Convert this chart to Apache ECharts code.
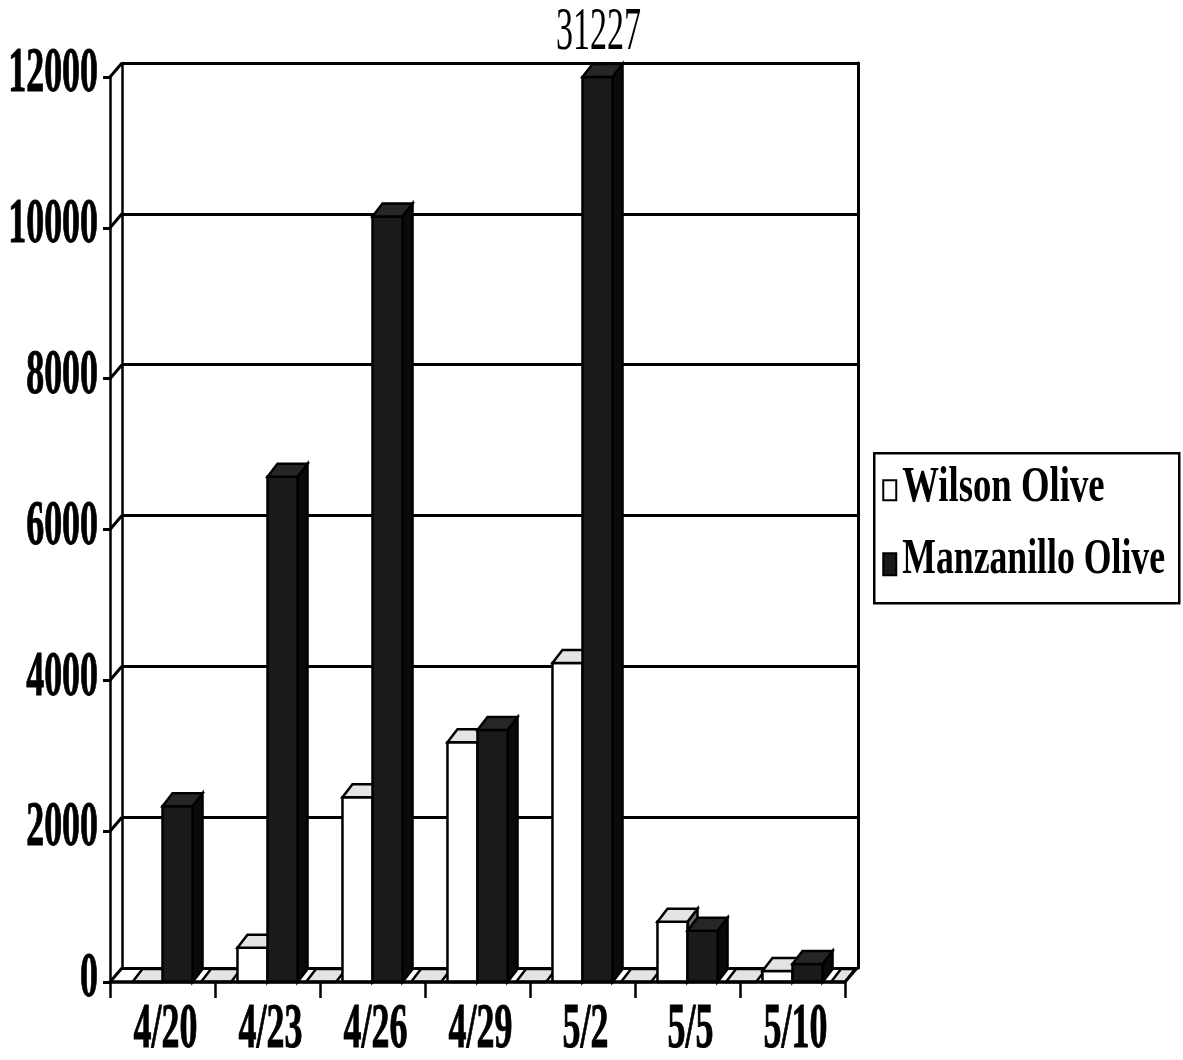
<!DOCTYPE html>
<html>
<head>
<meta charset="utf-8">
<script src="https://cdn.jsdelivr.net/npm/echarts@6/dist/echarts.min.js"></script>
<style>
  html, body { margin: 0; padding: 0; background: #fff; }
  #chart { width: 1183px; height: 1060px; }
</style>
</head>
<body>
<div id="chart"></div>
<script>
// Sampling dates and counts per olive variety
const categories = ['4/20', '4/23', '4/26', '4/29', '5/2', '5/5', '5/10'];
const wilsonOlive = [0, 455, 2450, 3180, 4230, 800, 145];
const manzanilloOlive = [2330, 6700, 10150, 3340, 31227, 680, 240];
// empty third slot per date, drawn as flat floor pads
const spacerValues = [0, 0, 0, 0, 0, 0, 0];
const yTicks = [0, 2000, 4000, 6000, 8000, 10000, 12000];
const yMax = 12000;
const legendNames = ['Wilson Olive', 'Manzanillo Olive'];

const WALL = [12, -14];      // offset of the back wall from the front plane
const BAR_DEPTH = [10, -13]; // depth offset of each column
const SERIF = '"Liberation Serif", "Times New Roman", serif';

const STYLES = {
  w: { front: '#ffffff', top: '#e4e4e4', side: '#6a6a6a' },
  m: { front: '#1a1a1a', top: '#262626', side: '#0a0a0a' },
  s: { front: '#ffffff', top: '#e4e4e4', side: '#6a6a6a' }
};

function boxRenderer(kind) {
  return function (params, api) {
    const cat = api.value(0);
    const v = api.value(1);
    const cs = params.coordSys;
    const band = api.size([1, 0])[0];
    const bw = band * 0.286;
    const base = api.coord([cat, 0]);
    const top = api.coord([cat, Math.min(v, yMax)]);
    let x0, w = bw;
    if (kind === 'w') x0 = base[0] - bw;
    else if (kind === 'm') x0 = base[0];
    else {
      x0 = base[0] + band / 2 - 14;
      w = Math.min(bw, cs.x + cs.width - x0);
    }
    const dx = BAR_DEPTH[0], dy = BAR_DEPTH[1];
    const st = STYLES[kind];
    const yT = top[1], yB = base[1];
    const h = yB - yT;
    const children = [];
    if (h > 0.5) {
      children.push({
        type: 'polygon',
        shape: { points: [[x0 + w, yT], [x0 + w + dx, yT + dy], [x0 + w + dx, yB + dy], [x0 + w, yB]] },
        style: { fill: st.side, stroke: '#000', lineWidth: 2.5 }
      });
      children.push({
        type: 'rect',
        shape: { x: x0, y: yT, width: w, height: h },
        style: { fill: st.front, stroke: '#000', lineWidth: 2.5 }
      });
    }
    children.push({
      type: 'polygon',
      shape: { points: [[x0, yT], [x0 + w, yT], [x0 + w + dx, yT + dy], [x0 + dx, yT + dy]] },
      style: { fill: st.top, stroke: '#000', lineWidth: 2.5 }
    });
    if (v > yMax) {
      // value runs past the axis top: print the actual value above the column
      children.push({
        type: 'text',
        x: x0 + (w + dx) / 2 - 4,
        y: yT + dy - 31,
        scaleX: 0.55,
        style: {
          text: String(v), font: '62px ' + SERIF, fill: '#000',
          align: 'center', verticalAlign: 'middle',
          textAlign: 'center', textVerticalAlign: 'middle'
        }
      });
    }
    return { type: 'group', children: children };
  };
}

// left-wall diagonals joining the front ticks to the back-wall gridlines
function frameRenderer(params, api) {
  const cs = params.coordSys;
  const v = api.value(1);
  const p = api.coord([0, v]);
  const children = [{
    type: 'line',
    shape: { x1: cs.x, y1: p[1], x2: cs.x + WALL[0], y2: p[1] + WALL[1] },
    style: { stroke: '#000', lineWidth: 3 }
  }];
  if (v === 0) {
    children.push({
      type: 'line',
      shape: { x1: cs.x + cs.width, y1: p[1], x2: cs.x + cs.width + WALL[0], y2: p[1] + WALL[1] },
      style: { stroke: '#000', lineWidth: 3 }
    });
  }
  return { type: 'group', children: children };
}

function yLabelRenderer(params, api) {
  const cs = params.coordSys;
  const v = api.value(1);
  const p = api.coord([0, v]);
  return {
    type: 'text',
    x: cs.x - 12,
    y: p[1] - 2,
    scaleX: 0.57,
    style: {
      text: String(v), font: 'bold 63px ' + SERIF, fill: '#000',
      stroke: '#000', lineWidth: 1,
      align: 'right', verticalAlign: 'middle',
      textAlign: 'right', textVerticalAlign: 'middle'
    }
  };
}

function xLabelRenderer(params, api) {
  const i = api.value(0);
  const p = api.coord([i, 0]);
  return {
    type: 'text',
    x: p[0] + 3,
    y: p[1] + 49,
    scaleX: 0.57,
    style: {
      text: categories[i], font: 'bold 63px ' + SERIF, fill: '#000',
      stroke: '#000', lineWidth: 1,
      align: 'center', verticalAlign: 'middle',
      textAlign: 'center', textVerticalAlign: 'middle'
    }
  };
}

const toPairs = arr => arr.map((v, i) => [i, v]);

const chart = echarts.init(document.getElementById('chart'), null, { renderer: 'canvas' });

chart.setOption({
  backgroundColor: '#ffffff',
  animation: false,
  grid: [
    { left: 110, right: 338, top: 77, bottom: 78 },          // front plane
    { left: 122, right: 325, top: 63, bottom: 92 }           // back wall
  ],
  xAxis: [
    {
      type: 'category', gridIndex: 0, data: categories, boundaryGap: true, z: 10,
      axisLine: { show: true, lineStyle: { color: '#000', width: 3.5 } },
      axisTick: { show: true, interval: 0, length: 16, lineStyle: { color: '#000', width: 2.5 } },
      axisLabel: { show: false }, splitLine: { show: false }
    },
    { type: 'category', gridIndex: 1, data: categories, show: false }
  ],
  yAxis: [
    {
      type: 'value', gridIndex: 0, min: 0, max: yMax, interval: 2000, z: 10,
      axisLine: { show: true, lineStyle: { color: '#000', width: 2.5 } },
      axisTick: { show: true, length: 7, lineStyle: { color: '#000', width: 3 } },
      axisLabel: { show: false }, splitLine: { show: false }
    },
    {
      type: 'value', gridIndex: 1, min: 0, max: yMax, interval: 2000, position: 'left',
      axisLine: { show: true, lineStyle: { color: '#000', width: 2.5 } },
      axisTick: { show: false }, axisLabel: { show: false },
      splitLine: { show: true, lineStyle: { color: '#000', width: 3 } }
    },
    {
      type: 'value', gridIndex: 1, min: 0, max: yMax, interval: 2000, position: 'right',
      axisLine: { show: true, lineStyle: { color: '#000', width: 3 } },
      axisTick: { show: false }, axisLabel: { show: false }, splitLine: { show: false }
    }
  ],
  series: [
    { type: 'custom', name: 'spacer', renderItem: boxRenderer('s'), data: toPairs(spacerValues), z: 2 },
    { type: 'custom', name: legendNames[0], renderItem: boxRenderer('w'), data: toPairs(wilsonOlive), z: 3 },
    { type: 'custom', name: legendNames[1], renderItem: boxRenderer('m'), data: toPairs(manzanilloOlive), z: 4 },
    { type: 'custom', name: 'frame', renderItem: frameRenderer, data: yTicks.map(v => [0, v]), z: 5 },
    { type: 'custom', name: 'yLabels', renderItem: yLabelRenderer, data: yTicks.map(v => [0, v]), z: 6 },
    { type: 'custom', name: 'xLabels', renderItem: xLabelRenderer, data: categories.map((c, i) => [i, 0]), z: 6 }
  ],
  graphic: [{
    type: 'group', left: 873, top: 452, z: 20,
    children: [
      { type: 'rect', shape: { x: 0, y: 0, width: 305, height: 150 },
        style: { fill: '#fff', stroke: '#000', lineWidth: 2.5 } },
      { type: 'rect', shape: { x: 9, y: 27, width: 13, height: 20 },
        style: { fill: '#fff', stroke: '#000', lineWidth: 2 } },
      { type: 'text', x: 28, y: 35, scaleX: 0.72,
        style: { text: legendNames[0], font: 'bold 51px ' + SERIF, fill: '#000',
                 align: 'left', verticalAlign: 'middle', textAlign: 'left', textVerticalAlign: 'middle' } },
      { type: 'rect', shape: { x: 9, y: 100, width: 13, height: 22 },
        style: { fill: '#1a1a1a', stroke: '#000', lineWidth: 2 } },
      { type: 'text', x: 28, y: 107, scaleX: 0.70,
        style: { text: legendNames[1], font: 'bold 51px ' + SERIF, fill: '#000',
                 align: 'left', verticalAlign: 'middle', textAlign: 'left', textVerticalAlign: 'middle' } }
    ]
  }]
});
</script>
</body>
</html>
